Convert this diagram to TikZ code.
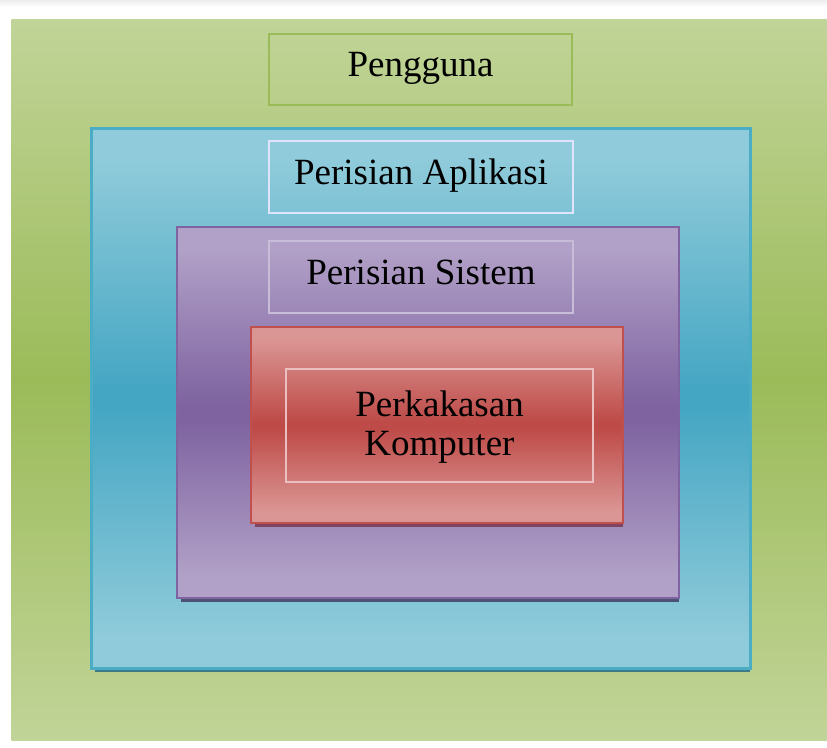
\documentclass[tikz,border=0pt]{standalone}
\usepackage{fontspec}
\setmainfont{Liberation Serif}
\definecolor{gLight}{HTML}{C1D498}
\definecolor{gDark}{HTML}{9BBB59}
\definecolor{bLight}{HTML}{8FCBDA}
\definecolor{bDark}{HTML}{45A6C3}
\definecolor{pLight}{HTML}{B1A0C7}
\definecolor{pDark}{HTML}{7E63A0}
\definecolor{rLight}{HTML}{DA9694}
\definecolor{rDark}{HTML}{BE4B48}
\definecolor{gBorder}{HTML}{9BBB59}
\definecolor{bBorder}{HTML}{4BACC6}
\definecolor{pBorder}{HTML}{8064A2}
\definecolor{rBorder}{HTML}{C0504D}
\definecolor{bShadow}{HTML}{3F7A88}
\definecolor{pShadow}{HTML}{4E5272}
\definecolor{rShadow}{HTML}{7E4460}
\pgfdeclareverticalshading{greenshade}{100bp}{color(0bp)=(gLight); color(25bp)=(gLight); color(50bp)=(gDark); color(75bp)=(gLight); color(100bp)=(gLight)}
\pgfdeclareverticalshading{blueshade}{100bp}{color(0bp)=(bLight); color(25bp)=(bLight); color(28bp)=(bLight); color(49bp)=(bDark); color(51bp)=(bDark); color(72bp)=(bLight); color(75bp)=(bLight); color(100bp)=(bLight)}
\pgfdeclareverticalshading{purpleshade}{100bp}{color(0bp)=(pLight); color(25bp)=(pLight); color(28bp)=(pLight); color(49bp)=(pDark); color(51bp)=(pDark); color(72bp)=(pLight); color(75bp)=(pLight); color(100bp)=(pLight)}
\pgfdeclareverticalshading{redshade}{100bp}{color(0bp)=(rLight); color(25bp)=(rLight); color(28bp)=(rLight); color(49bp)=(rDark); color(51bp)=(rDark); color(72bp)=(rLight); color(75bp)=(rLight); color(100bp)=(rLight)}
\begin{document}
\begin{tikzpicture}[x=1pt,y=-1pt,
  layer/.style={anchor=north west, inner sep=0pt, outer sep=0pt, shade},
  label box/.style={anchor=north west, inner sep=0pt, outer sep=0pt, line width=2pt,
     font=\fontsize{37}{38}\selectfont, text height=24pt, text depth=10pt},
  shadowstrip/.style={fill=#1, draw=none}]
\useasboundingbox (0,0) rectangle (827,747);
\fill[white] (0,0) rectangle (827,747);
\shade[top color=black!7, bottom color=white] (0,0) rectangle (827,7);
% outer green
\node[layer, shading=greenshade, minimum width=816pt, minimum height=721pt] (outer) at (11.5,19.5) {};
% Pengguna
\node[label box, draw=gBorder, line width=2.5pt, minimum width=303pt, minimum height=71pt] (user) at (269,34) {Pengguna};
% blue layer
\fill[shadowstrip=bShadow] (95,132) rectangle (750,672);
\node[layer, shading=blueshade, draw=bBorder, line width=3pt, minimum width=659pt, minimum height=540pt] (app) at (91,128) {};
\node[label box, draw=white!60!bLight!70!blue!30, minimum width=304pt, minimum height=72pt] (applabel) at (269,141) {Perisian Aplikasi};
% purple layer
\fill[shadowstrip=pShadow] (181,231) rectangle (679,602);
\node[layer, shading=purpleshade, draw=pBorder, line width=2.5pt, minimum width=502pt, minimum height=371pt] (sys) at (177,227) {};
\node[label box, draw=pLight!70!white, minimum width=304pt, minimum height=72pt] (syslabel) at (269,241) {Perisian Sistem};
% red layer
\fill[shadowstrip=rShadow] (255,331) rectangle (623,527);
\node[layer, shading=redshade, draw=rBorder, line width=2.5pt, minimum width=372pt, minimum height=196pt] (hw) at (251,327) {};
\node[label box, draw=rLight!60!white, align=center, text height=, text depth=5pt, minimum width=307pt, minimum height=113pt] (hwlabel) at (286,369) {Perkakasan\\[1pt]Komputer};
\end{tikzpicture}
\end{document}
